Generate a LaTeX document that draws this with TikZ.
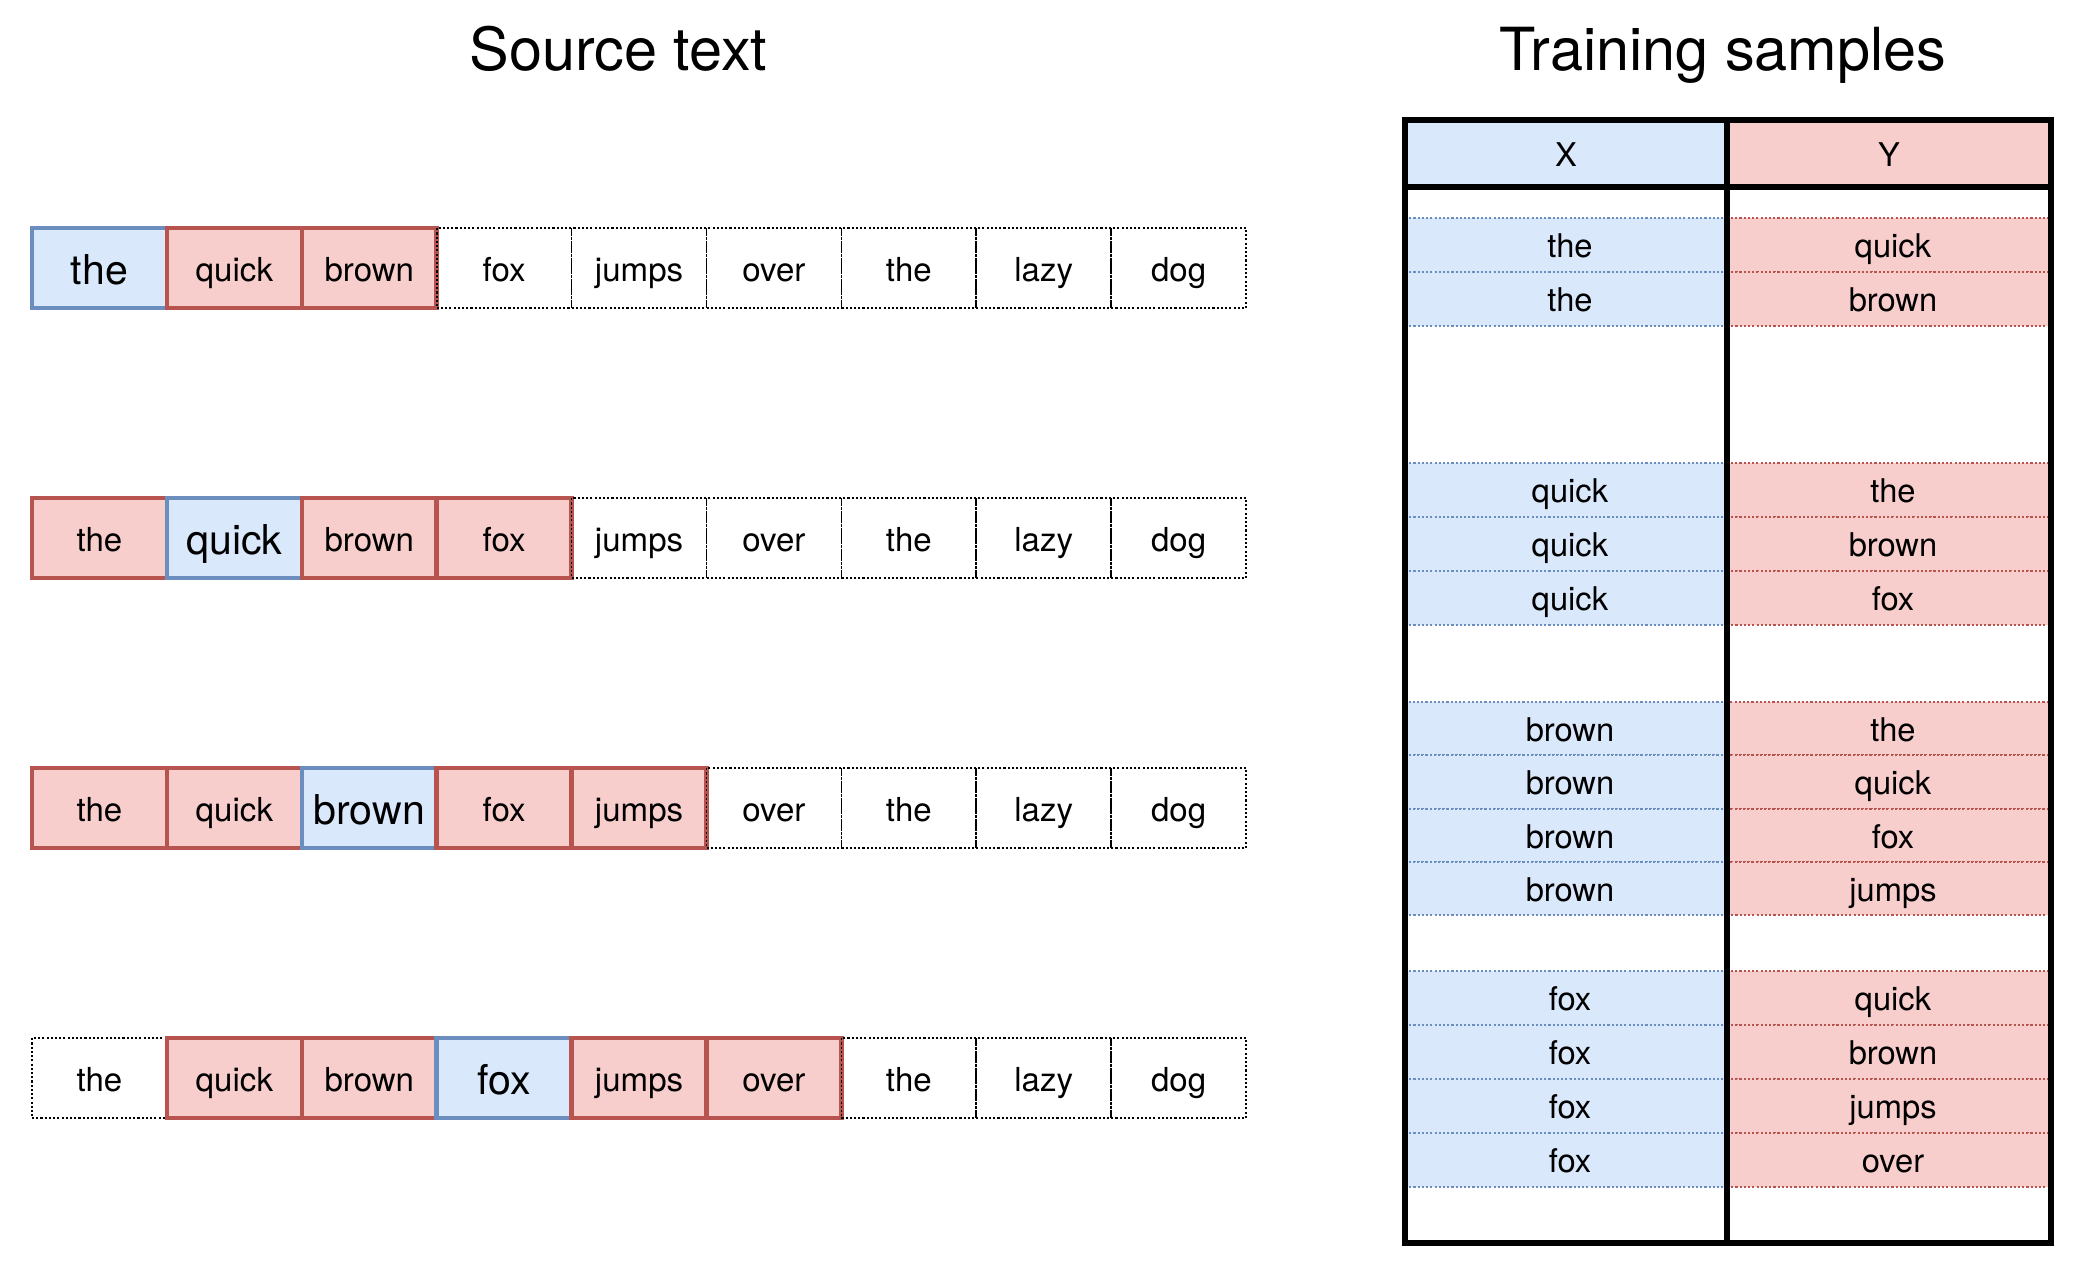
\documentclass[tikz,border=0pt]{standalone}
\usepackage{fontspec}
\setmainfont{TeX Gyre Heros}
\definecolor{bfill}{HTML}{DAE8FC}
\definecolor{bline}{HTML}{6C8EBF}
\definecolor{rfill}{HTML}{F8CECC}
\definecolor{rline}{HTML}{B85450}
\begin{document}
\begin{tikzpicture}[x=1cm,y=1cm,
  title/.style={font=\fontsize{16.9}{20}\selectfont, inner sep=0pt, anchor=base},
  word/.style={font=\fontsize{9.4}{11}\selectfont, text height=7.5pt, text depth=0pt,
    inner sep=0pt, outer sep=0pt, minimum width=1.349cm, minimum height=0.80cm},
  cellB/.style={word, fill=bfill, draw=bline, line width=1.28pt,
    font=\fontsize{11.7}{13}\selectfont, text height=9.3pt},
  cellR/.style={word, fill=rfill, draw=rline, line width=1.28pt},
  cellD/.style={word, draw=black, line width=0.5pt, dash pattern=on 0.6pt off 0.6pt},
  strip/.style={font=\fontsize{9.3}{11}\selectfont, text height=7.4pt, text depth=0pt,
    inner sep=0pt, outer sep=0pt, line width=0.6pt, dash pattern=on 0.6pt off 0.6pt},
  xstrip/.style={strip, fill=bfill, draw=bline, minimum width=3.22cm},
  ystrip/.style={strip, fill=rfill, draw=rline, minimum width=3.24cm},
  frameline/.style={line width=1.45pt, draw=black}
]
\useasboundingbox (0,0) rectangle (20.86,-12.74);

% headings
\node[title] (srctitle) at (6.184,-0.71) {Source text};
\node[title] (traintitle) at (17.23,-0.71) {Training samples};

% sliding context windows over the sentence
\foreach \r/\c/\y in {1/1/2.68, 2/2/5.38, 3/3/8.08, 4/4/10.78}{
  \foreach \w [count=\i] in {the,quick,brown,fox,jumps,over,the,lazy,dog}{
    \pgfmathtruncatemacro\dist{abs(\i-\c)}
    \ifnum\dist=0 \def\cellstyle{cellB}\else
      \ifnum\dist<3 \def\cellstyle{cellR}\else\def\cellstyle{cellD}\fi\fi
    \node[\cellstyle] (r\r-\i) at ({0.32+1.349*(\i-0.5)},-\y) {\w};
  }
}

% table header
\node[strip, solid, line width=0.5pt, fill=bfill, draw=bline, minimum width=3.22cm,
  minimum height=0.67cm] (hx) at (15.66,-1.535) {X};
\node[strip, solid, line width=0.5pt, fill=rfill, draw=rline, minimum width=3.24cm,
  minimum height=0.67cm] (hy) at (18.89,-1.535) {Y};

% training pairs (input word, context word)
\foreach \g/\top/\h/\xw/\ys in {
  1/2.18/0.54/the/{quick,brown},
  2/4.63/0.54/quick/{the,brown,fox},
  3/7.02/0.533/brown/{the,quick,fox,jumps},
  4/9.71/0.54/fox/{quick,brown,jumps,over}}{
  \foreach \yw [count=\k] in \ys{
    \pgfmathsetmacro\yc{-(\top+(\k-0.5)*\h)}
    \node[xstrip, minimum height=\h cm] (x\g-\k) at (15.66,\yc) {\hspace{0.08cm}\xw};
    \node[ystrip, minimum height=\h cm] (y\g-\k) at (18.89,\yc) {\hspace{0.08cm}\yw};
  }
}

% table frame
\draw[frameline] (14.05,-1.20) rectangle (20.51,-12.43);
\draw[frameline] (14.05,-1.87) -- (20.51,-1.87);
\draw[frameline] (17.27,-1.20) -- (17.27,-12.43);
\end{tikzpicture}
\end{document}
